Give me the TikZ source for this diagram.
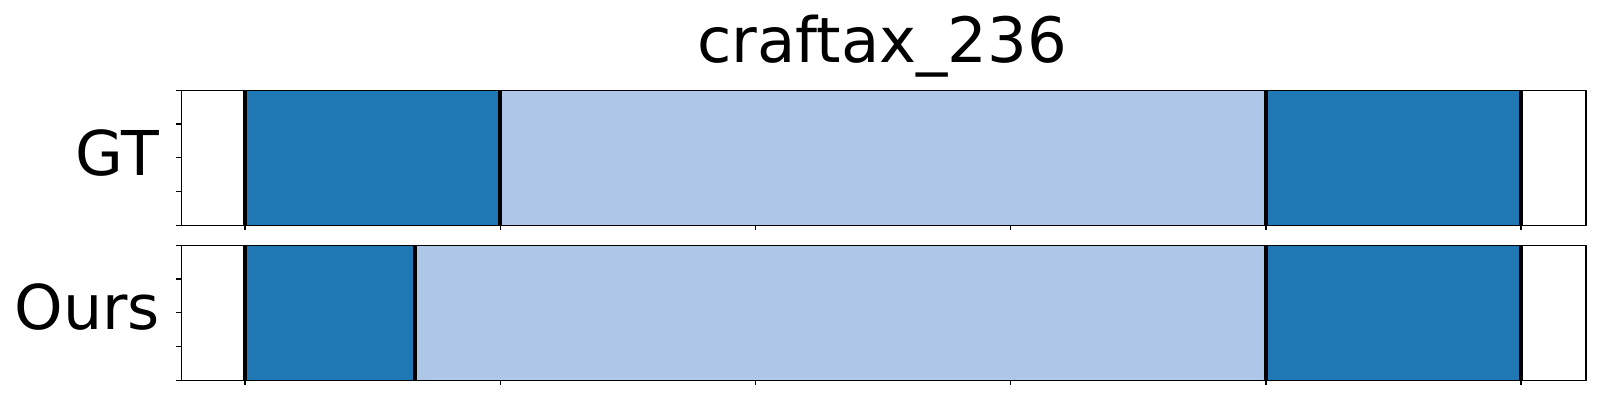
\documentclass[tikz,border=0pt]{standalone}
\usepackage{fontspec}
\setmainfont{DejaVu Sans}
\definecolor{darkb}{HTML}{1F77B4}
\definecolor{lightb}{HTML}{AEC7E8}
\begin{document}
\begin{tikzpicture}[x=1bp,y=-1bp,
  spine/.style={line width=1.6bp,black},
  tickmark/.style={line width=1.2bp,black},
  segline/.style={line width=4bp,black},
  bigtext/.style={inner sep=0pt,font=\fontsize{62}{74bp}\selectfont},
  titletext/.style={inner sep=0pt,font=\fontsize{62.5bp}{75bp}\selectfont}]
\useasboundingbox (0,0) rectangle (1600,400);
\fill[white] (0,0) rectangle (1600,400);
% ---- GT panel (top 90.3, bottom 225.3)
\fill[darkb]  (245,90.3) rectangle (499.8,225.3);
\fill[lightb] (499.8,90.3) rectangle (1266,225.3);
\fill[darkb]  (1266,90.3) rectangle (1521,225.3);
\foreach \x in {245,499.8,1266,1521} \draw[segline] (\x,90.3) -- (\x,225.3);
\draw[spine] (181.3,90.3) rectangle (1585.7,225.3);
\foreach \x in {245,500.3,755.6,1010.8,1266,1521} \draw[tickmark] (\x,225.3) -- (\x,230.3);
\foreach \y in {90.3,124.05,157.8,191.55,225.3} \draw[tickmark] (181.3,\y) -- (176.3,\y);
% ---- Ours panel (top 245.3, bottom 380.3)
\fill[darkb]  (245,245.3) rectangle (414.7,380.3);
\fill[lightb] (414.7,245.3) rectangle (1266,380.3);
\fill[darkb]  (1266,245.3) rectangle (1521,380.3);
\foreach \x in {245,414.7,1266,1521} \draw[segline] (\x,245.3) -- (\x,380.3);
\draw[spine] (181.3,245.3) rectangle (1585.7,380.3);
\foreach \x in {245,500.3,755.6,1010.8,1266,1521} \draw[tickmark] (\x,380.3) -- (\x,385.3);
\foreach \y in {245.3,279.05,312.8,346.55,380.3} \draw[tickmark] (181.3,\y) -- (176.3,\y);
% ---- texts
\node[titletext,anchor=base] (title) at (882,62) {craftax\_236};
\node[bigtext,anchor=base east] (gt) at (159,175) {GT};
\node[bigtext,anchor=base east] (ours) at (160,329) {Ours};
\end{tikzpicture}
\end{document}
